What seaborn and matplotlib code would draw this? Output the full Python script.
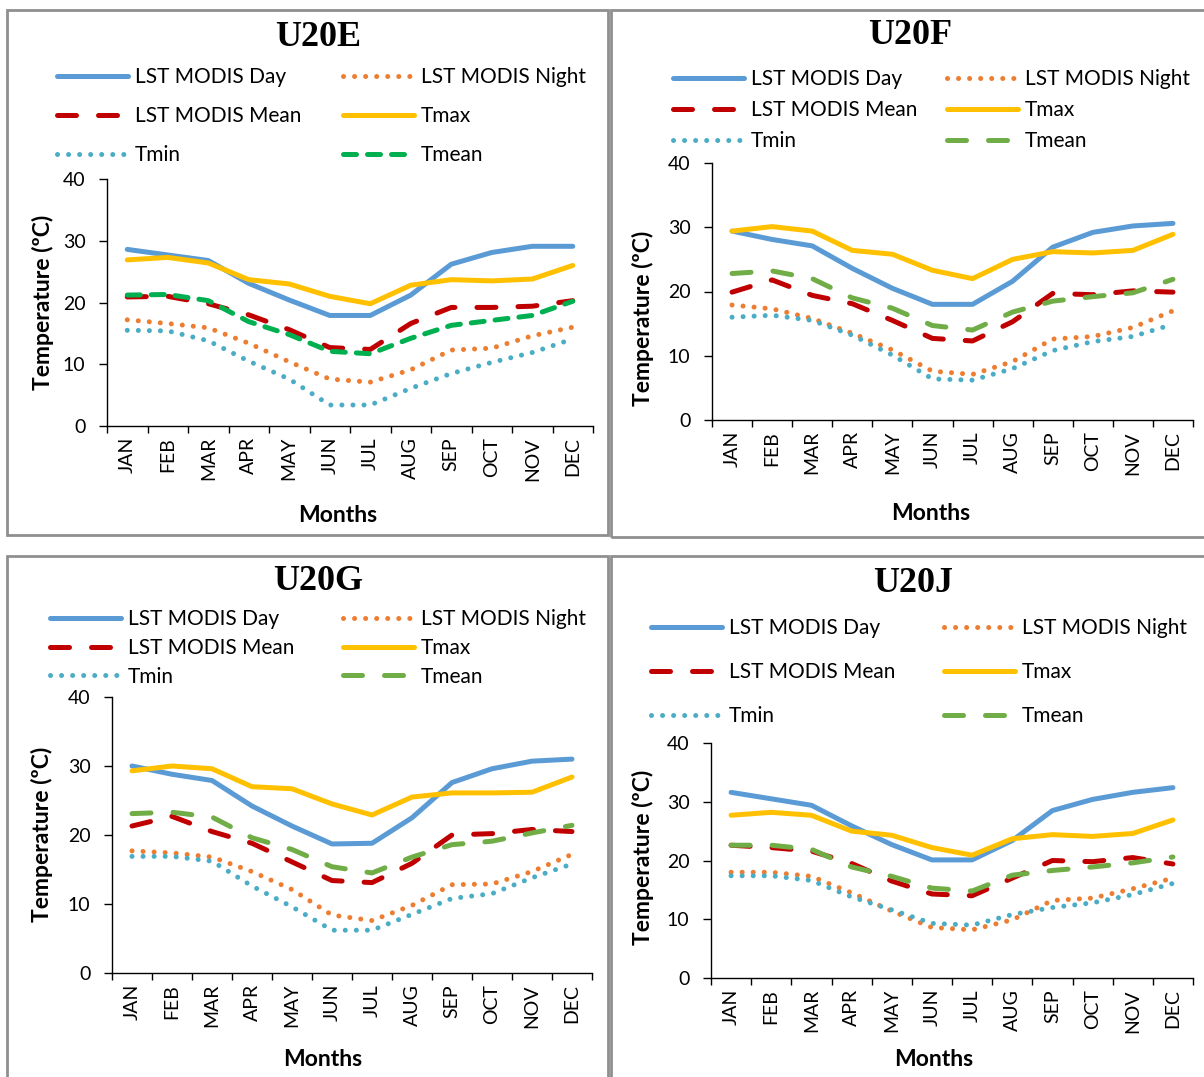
import numpy as np
import pandas as pd
import matplotlib
matplotlib.use("Agg")
import matplotlib.pyplot as plt
from matplotlib.patches import Rectangle
import seaborn as sns

MONTHS = ["JAN", "FEB", "MAR", "APR", "MAY", "JUN",
          "JUL", "AUG", "SEP", "OCT", "NOV", "DEC"]
SERIES = ["LST MODIS Day", "LST MODIS Night", "LST MODIS Mean",
          "Tmax", "Tmin", "Tmean"]

# ---- U20E ----
u20e_day   = [28.6, 27.7, 26.8, 23.1, 20.4, 17.9, 17.9, 21.2, 26.2, 28.1, 29.1, 29.1]
u20e_night = [17.2, 16.6, 15.9, 13.4, 10.4, 7.6, 7.1, 9.1, 12.3, 12.6, 14.6, 16.0]
u20e_mean  = [20.9, 21.0, 19.8, 18.0, 15.6, 12.7, 12.4, 16.6, 19.2, 19.2, 19.4, 20.3]
u20e_tmax  = [26.9, 27.3, 26.4, 23.7, 23.0, 21.0, 19.8, 22.8, 23.7, 23.5, 23.8, 26.0]
u20e_tmin  = [15.5, 15.4, 13.8, 10.5, 7.6, 3.4, 3.4, 6.1, 8.5, 10.3, 11.9, 14.1]
u20e_tmean = [21.2, 21.3, 20.3, 16.9, 14.8, 12.1, 11.7, 14.2, 16.3, 17.1, 17.9, 20.2]

# ---- U20F ----
u20f_day   = [29.4, 28.1, 27.1, 23.6, 20.5, 18.0, 18.0, 21.6, 26.9, 29.2, 30.2, 30.6]
u20f_night = [17.9, 17.3, 15.8, 13.5, 10.9, 7.6, 7.1, 9.1, 12.6, 13.0, 14.4, 17.0]
u20f_mean  = [19.9, 21.8, 19.4, 18.1, 15.5, 12.7, 12.3, 15.3, 19.7, 19.5, 20.1, 19.9]
u20f_tmax  = [29.4, 30.1, 29.4, 26.4, 25.8, 23.3, 22.0, 25.0, 26.2, 26.0, 26.4, 28.9]
u20f_tmin  = [16.0, 16.3, 15.5, 13.2, 10.1, 6.4, 6.2, 8.0, 10.8, 12.2, 13.0, 14.9]
u20f_tmean = [22.8, 23.2, 22.0, 19.0, 17.4, 14.7, 14.0, 16.8, 18.5, 19.2, 19.8, 21.9]

# ---- U20G ----
u20g_day   = [30.0, 28.8, 27.9, 24.2, 21.3, 18.7, 18.8, 22.5, 27.6, 29.6, 30.7, 31.0]
u20g_night = [17.7, 17.4, 16.8, 14.7, 12.1, 8.4, 7.6, 9.8, 12.8, 12.9, 14.7, 17.2]
u20g_mean  = [21.3, 22.7, 20.5, 18.8, 16.1, 13.4, 13.1, 15.9, 20.0, 20.2, 20.8, 20.5]
u20g_tmax  = [29.3, 30.0, 29.6, 27.0, 26.7, 24.5, 22.9, 25.5, 26.1, 26.1, 26.2, 28.4]
u20g_tmin  = [16.9, 16.9, 16.2, 12.6, 9.6, 6.2, 6.2, 8.5, 10.8, 11.5, 13.8, 15.8]
u20g_tmean = [23.1, 23.3, 22.6, 19.6, 17.9, 15.4, 14.5, 16.8, 18.6, 19.1, 20.3, 21.4]

# ---- U20J ----
u20j_day   = [31.6, 30.5, 29.4, 25.9, 22.7, 20.1, 20.1, 23.4, 28.5, 30.4, 31.6, 32.4]
u20j_night = [18.0, 18.0, 17.3, 14.5, 11.4, 8.6, 8.2, 9.9, 13.2, 13.6, 15.2, 17.0]
u20j_mean  = [22.6, 22.2, 21.6, 19.5, 16.5, 14.3, 14.0, 17.0, 20.0, 19.8, 20.5, 19.4]
u20j_tmax  = [27.7, 28.2, 27.7, 25.0, 24.3, 22.2, 20.9, 23.7, 24.4, 24.1, 24.6, 26.9]
u20j_tmin  = [17.4, 17.4, 16.6, 13.8, 11.6, 9.3, 9.0, 10.8, 12.0, 12.8, 14.2, 16.1]
u20j_tmean = [22.6, 22.6, 21.9, 18.9, 17.3, 15.3, 14.8, 17.5, 18.3, 18.9, 19.6, 20.6]

STATIONS = {
    "U20E": [u20e_day, u20e_night, u20e_mean, u20e_tmax, u20e_tmin, u20e_tmean],
    "U20F": [u20f_day, u20f_night, u20f_mean, u20f_tmax, u20f_tmin, u20f_tmean],
    "U20G": [u20g_day, u20g_night, u20g_mean, u20g_tmax, u20g_tmin, u20g_tmean],
    "U20J": [u20j_day, u20j_night, u20j_mean, u20j_tmax, u20j_tmin, u20j_tmean],
}

LW = 3.6
DOT = (0, (0.01, 2.2))
LONG_DASH = (0, (3.8, 4.4))
SHORT_DASH = (0, (2.6, 2.2))

STYLE = {
    "LST MODIS Day":   dict(color="#5B9BD5", linestyle="-"),
    "LST MODIS Night": dict(color="#ED7D31", linestyle=DOT),
    "LST MODIS Mean":  dict(color="#C00000", linestyle=LONG_DASH),
    "Tmax":            dict(color="#FFC000", linestyle="-"),
    "Tmin":            dict(color="#4BACC6", linestyle=DOT),
    "Tmean":           dict(color="#70AD47", linestyle=LONG_DASH),
}

W, H = 1204, 1077

# per-panel layout in pixels: axes (left, top, right, bottom), frame box,
# title centre, legend (col1 x, col2 x, middle-row y, row spacing), label centres
PANELS = [
    dict(name="U20E", ax=(107, 179, 593, 426), box=(7, 10, 608, 535),
         title=(318, 37), leg=(57, 343, 116, 0.91),
         ylab=(43, 302), xlab=(338, 515),
         tmean=dict(color="#00B050", linestyle=SHORT_DASH)),
    dict(name="U20F", ax=(712, 163, 1193, 420), box=(611, 10, 1210, 537),
         title=(910, 35), leg=(673, 947, 110, 0.53),
         ylab=(643, 318), xlab=(931, 514), tmean=None),
    dict(name="U20G", ax=(112, 697, 592, 973), box=(7, 556, 608, 1085),
         title=(318, 582), leg=(50, 343, 648, 0.41),
         ylab=(42, 834), xlab=(323, 1060), tmean=None),
    dict(name="U20J", ax=(711, 743, 1193, 978), box=(611, 556, 1210, 1085),
         title=(913, 584), leg=(651, 944, 672, 1.15),
         ylab=(643, 857), xlab=(934, 1060), tmean=None),
]

sns.set_theme(style="white")
plt.rcParams["font.family"] = ["Lato", "DejaVu Sans"]

TICK_FS = 14
LEG_FS = 15
LAB_FS = 16.5


def fx(px):
    return px / W


def fy(py):
    return 1 - py / H


fig = plt.figure(figsize=(W / 100, H / 100), dpi=100)

for p in PANELS:
    values = STATIONS[p["name"]]
    frames = []
    for s, vals in zip(SERIES, values):
        frames.append(pd.DataFrame({"month": np.arange(len(MONTHS)),
                                    "temp": vals, "series": s}))
    df = pd.concat(frames, ignore_index=True)

    l, t, r, b = p["ax"]
    ax = fig.add_axes([fx(l), fy(b), fx(r) - fx(l), fy(t) - fy(b)])

    handles = {}
    for s in SERIES:
        st = dict(STYLE[s])
        if s == "Tmean" and p["tmean"] is not None:
            st = dict(p["tmean"])
        sns.lineplot(data=df[df["series"] == s], x="month", y="temp",
                     ax=ax, color=st["color"], linestyle=st["linestyle"],
                     lw=LW, errorbar=None, legend=False, label=s,
                     dash_capstyle="round", solid_capstyle="round",
                     solid_joinstyle="round", dash_joinstyle="round")
        handles[s] = ax.get_lines()[-1]
    if ax.get_legend() is not None:
        ax.get_legend().remove()

    ax.set_xlim(-0.5, len(MONTHS) - 0.5)
    ax.set_ylim(0, 40)
    ax.set_yticks([0, 10, 20, 30, 40])
    ax.set_xticks(np.arange(len(MONTHS)))
    ax.set_xticklabels(MONTHS, rotation=90)
    ax.set_xticks(np.arange(-0.5, len(MONTHS), 1.0), minor=True)
    ax.tick_params(axis="x", which="major", length=0, pad=8,
                   labelsize=TICK_FS, labelcolor="black")
    ax.tick_params(axis="x", which="minor", length=5, width=1,
                   direction="out", color="black", bottom=True)
    ax.tick_params(axis="y", length=5.5, width=1, direction="out",
                   color="black", pad=10, labelsize=TICK_FS,
                   labelcolor="black", left=True)
    for side in ("top", "right"):
        ax.spines[side].set_visible(False)
    for side in ("left", "bottom"):
        ax.spines[side].set_color("black")
        ax.spines[side].set_linewidth(1.0)
    ax.set_facecolor("none")
    ax.grid(False)

    ax.set_xlabel("Months", fontsize=LAB_FS, fontweight="bold",
                  color="black", va="center")
    ax.xaxis.set_label_coords(fx(p["xlab"][0]), fy(p["xlab"][1]),
                              transform=fig.transFigure)
    ax.set_ylabel("Temperature (ºC)", fontsize=LAB_FS, fontweight="bold",
                  color="black", va="center")
    ax.yaxis.set_label_coords(fx(p["ylab"][0]), fy(p["ylab"][1]),
                              transform=fig.transFigure)

    fig.text(fx(p["title"][0]), fy(p["title"][1]), p["name"],
             family="Liberation Serif", fontweight="bold", fontsize=26,
             ha="center", va="center", color="black")

    c1x, c2x, my, ls = p["leg"]
    common = dict(loc="center left", frameon=False, fontsize=LEG_FS,
                  handlelength=3.4, handletextpad=0.35, borderpad=0,
                  borderaxespad=0, labelspacing=ls,
                  bbox_transform=fig.transFigure, labelcolor="black")
    col1 = ["LST MODIS Day", "LST MODIS Mean", "Tmin"]
    col2 = ["LST MODIS Night", "Tmax", "Tmean"]
    leg1 = ax.legend([handles[s] for s in col1], col1,
                     bbox_to_anchor=(fx(c1x), fy(my)), **common)
    ax.add_artist(leg1)
    ax.legend([handles[s] for s in col2], col2,
              bbox_to_anchor=(fx(c2x), fy(my)), **common)

    bl, bt, br, bb = p["box"]
    fig.patches.append(Rectangle((fx(bl), fy(bb)), fx(br) - fx(bl),
                                 fy(bt) - fy(bb), transform=fig.transFigure,
                                 fill=False, edgecolor="#8f8f8f", lw=2.0,
                                 zorder=0))

fig.savefig("out.png", dpi=100, facecolor="white")
